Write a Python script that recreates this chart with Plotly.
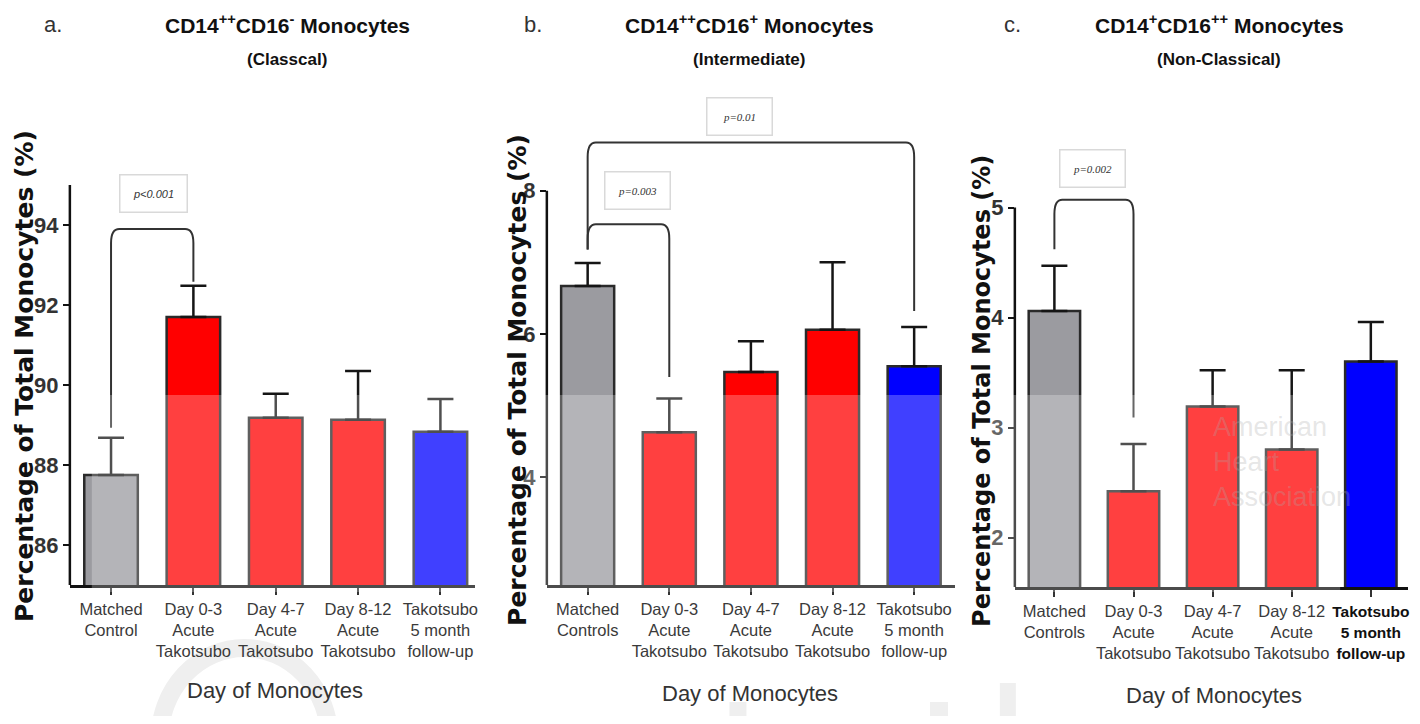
import plotly.graph_objects as go

# the page body keeps its default 8px margin, so the figure is laid out 8px in
OFF = 8
W, H = 1420 - 2 * OFF, 724 - 2 * OFF

# ---------------- data ----------------
labels_a = ["Matched<br>Control", "Day 0-3<br>Acute<br>Takotsubo", "Day 4-7<br>Acute<br>Takotsubo",
            "Day 8-12<br>Acute<br>Takotsubo", "Takotsubo<br>5 month<br>follow-up"]
labels_b = ["Matched<br>Controls", "Day 0-3<br>Acute<br>Takotsubo", "Day 4-7<br>Acute<br>Takotsubo",
            "Day 8-12<br>Acute<br>Takotsubo", "Takotsubo<br>5 month<br>follow-up"]
labels_c = ["Matched<br>Controls", "Day 0-3<br>Acute<br>Takotsubo", "Day 4-7<br>Acute<br>Takotsubo",
            "Day 8-12<br>Acute<br>Takotsubo",
            "<span style='font-size:15.5px;color:#111'><b>Takotsubo</b><br><b>5 month</b><br><b>follow-up</b></span>"]

classical_mean = [87.75, 91.70, 89.18, 89.13, 88.83]
classical_sem = [0.93, 0.78, 0.60, 1.22, 0.82]
intermediate_mean = [6.67, 4.63, 5.47, 6.06, 5.55]
intermediate_sem = [0.32, 0.47, 0.43, 0.94, 0.55]
nonclassical_mean = [4.06, 2.42, 3.19, 2.80, 3.60]
nonclassical_sem = [0.41, 0.43, 0.33, 0.72, 0.36]

yticks_a = [86, 88, 90, 92, 94]
yticks_b = [4, 6, 8]
yticks_c = [2, 3, 4, 5]

# significance brackets: (from, to, top, left-leg end, right-leg end, label, label x, label y)
brackets_a = [(0, 1, 93.9, 88.93, 92.58, "p<0.001", 0.51, 94.8)]
brackets_b = [(0, 1, 7.53, 7.18, 5.40, "p=0.003", 0.61, 8.0),
              (0, 4, 8.67, 7.18, 6.32, "p=0.01", 1.86, 9.03)]
brackets_c = [(0, 1, 5.07, 4.62, 3.09, "p=0.002", 0.48, 5.355)]

bar_colors = ["#9b9ba0", "#ff0000", "#ff0000", "#ff0000", "#0000ff"]

SANS = "Liberation Sans, Arial, sans-serif"
WIDE_BOLD = "DejaVu Sans, Arial, sans-serif"


def px(x):
    return (x - OFF) / W


def py(y):
    return 1 - (y - OFF) / H


panels = [
    dict(title="CD14<sup>++</sup>CD16<sup>-</sup> Monocytes", sub="(Classcal)", letter="a.",
         labels=labels_a, mean=classical_mean, sem=classical_sem, ticks=yticks_a,
         brackets=brackets_a, xdom=(70, 476), ybot_px=585, ybot=85.0, scale=40.0, ytop=95,
         xr=(-0.5, 4.42), cx=288, cx_letter=53, ytitle_x=24, ytitle_y=376, ytsize=25,
         xtitle=(276, 690), corner=(0.1, 0.35), pfont="Liberation Sans, Arial", pw=62),
    dict(title="CD14<sup>++</sup>CD16<sup>+</sup> Monocytes", sub="(Intermediate)", letter="b.",
         labels=labels_b, mean=intermediate_mean, sem=intermediate_sem, ticks=yticks_b,
         brackets=brackets_b, xdom=(548, 957), ybot_px=585, ybot=2.5, scale=71.7, ytop=8,
         xr=(-0.5, 4.5), cx=751, cx_letter=534, ytitle_x=518, ytitle_y=380, ytsize=25,
         xtitle=(752, 693), corner=(0.1, 0.2), pfont="Liberation Serif, Times New Roman", pw=60),
    dict(title="CD14<sup>+</sup>CD16<sup>++</sup> Monocytes", sub="(Non-Classical)", letter="c.",
         labels=labels_c, mean=nonclassical_mean, sem=nonclassical_sem, ticks=yticks_c,
         brackets=brackets_c, xdom=(1017, 1411), ybot_px=587, ybot=1.55, scale=110.0, ytop=5,
         xr=(-0.5, 4.47), cx=1222, cx_letter=1015, ytitle_x=984, ytitle_y=391, ytsize=24,
         xtitle=(1217, 695), corner=(0.1, 0.13), pfont="Liberation Serif, Times New Roman", pw=60),
]

TOP_PX = 90

fig = go.Figure()
shapes = []
annotations = []
layout = dict(width=W, height=H, margin=dict(l=0, r=0, t=0, b=0),
              paper_bgcolor="white", plot_bgcolor="white", showlegend=False)

for i, p in enumerate(panels, start=1):
    sx = "" if i == 1 else str(i)
    xa, ya = "x" + sx, "y" + sx
    x_idx = list(range(len(p["mean"])))
    fig.add_trace(go.Bar(
        x=x_idx, y=p["mean"], xaxis=xa, yaxis=ya, width=0.65,
        marker=dict(color=bar_colors, line=dict(color="#2a2a2a", width=2.5)),
        error_y=dict(type="data", array=p["sem"], arrayminus=[0] * len(p["sem"]),
                     symmetric=False, color="#151515", thickness=2.5, width=13),
        hoverinfo="skip",
    ))
    yrange_top = p["ybot"] + (p["ybot_px"] - TOP_PX) / p["scale"]
    layout["xaxis" + sx] = dict(
        domain=[px(p["xdom"][0]), px(p["xdom"][1])], anchor=ya, range=list(p["xr"]),
        tickvals=x_idx, ticktext=p["labels"], showgrid=False, zeroline=False,
        showline=True, linecolor="#111", linewidth=2.5, ticks="outside", ticklen=7,
        tickwidth=2, tickcolor="#333", tickangle=0,
        tickfont=dict(family=SANS, size=16.5, color="#3a3a3a"))
    layout["yaxis" + sx] = dict(
        domain=[py(p["ybot_px"]), py(TOP_PX)], anchor=xa,
        range=[p["ybot"], yrange_top], tickvals=p["ticks"], showgrid=False, zeroline=False,
        showline=False, ticks="outside", ticklen=6, tickwidth=2, tickcolor="#111",
        tickfont=dict(family=SANS, size=22, color="#333", weight="bold"))
    # y axis line (only up to the top tick region)
    shapes.append(dict(type="line", xref=xa + " domain", yref=ya, x0=0, x1=0,
                       y0=p["ybot"], y1=p["ytop"], line=dict(color="#111", width=2.5)))
    # significance brackets
    dx, dy = p["corner"]
    for (b0, b1, top, yl, yr, lab, lx, ly) in p["brackets"]:
        path = (f"M {b0},{yl} L {b0},{top - dy} Q {b0},{top} {b0 + dx},{top} "
                f"L {b1 - dx},{top} Q {b1},{top} {b1},{top - dy} L {b1},{yr}")
        shapes.append(dict(type="path", xref=xa, yref=ya, path=path,
                           line=dict(color="#333", width=2)))
        annotations.append(dict(
            x=lx, y=ly, xref=xa, yref=ya, text=lab, showarrow=False,
            font=dict(family=p["pfont"], size=11, color="#333", style="italic"),
            bordercolor="#d9d9d9", borderwidth=1.5, borderpad=2, bgcolor="white",
            width=p["pw"], height=32, align="center", valign="middle"))
    # titles
    annotations.append(dict(x=px(p["cx"]), y=py(24), xref="paper", yref="paper",
                            text=p["title"], showarrow=False, xanchor="center", yanchor="middle",
                            font=dict(family=SANS, size=21, color="#111", weight="bold")))
    annotations.append(dict(x=px(p["cx"]), y=py(59), xref="paper", yref="paper",
                            text=p["sub"], showarrow=False, xanchor="center", yanchor="middle",
                            font=dict(family=SANS, size=17, color="#111", weight="bold")))
    annotations.append(dict(x=px(p["cx_letter"]), y=py(24), xref="paper", yref="paper",
                            text=p["letter"], showarrow=False, xanchor="center", yanchor="middle",
                            font=dict(family=SANS, size=22, color="#333")))
    annotations.append(dict(x=px(p["ytitle_x"]), y=py(p["ytitle_y"]), xref="paper", yref="paper",
                            text="Percentage of Total Monocytes (%)", showarrow=False,
                            textangle=-90, xanchor="center", yanchor="middle",
                            font=dict(family=WIDE_BOLD, size=p["ytsize"], color="#111", weight="bold")))
    annotations.append(dict(x=px(p["xtitle"][0]), y=py(p["xtitle"][1]), xref="paper", yref="paper",
                            text="Day of Monocytes", showarrow=False, xanchor="center", yanchor="middle",
                            font=dict(family=SANS, size=22, color="#333")))

# AHA watermark in panel c
annotations.append(dict(x=px(1214), y=py(462), xref="paper", yref="paper",
                        text="American<br>Heart<br>Association", showarrow=False,
                        xanchor="left", yanchor="middle", align="left",
                        font=dict(family=SANS, size=27, color="rgba(170,170,170,0.3)")))

# lightened band (scan artifact in the original figure)
shapes.append(dict(type="rect", xref="paper", yref="paper", x0=px(92), x1=px(1343),
                   y0=py(592), y1=py(395), fillcolor="rgba(255,255,255,0.25)",
                   line=dict(width=0), layer="above"))
# faint background watermark marks at the bottom
shapes.append(dict(type="circle", xref="paper", yref="paper", x0=px(160), x1=px(330),
                   y0=py(830), y1=py(648), line=dict(color="#efefef", width=18), layer="below"))
for (a0, a1, top) in [(731, 748, 702), (932, 950, 702), (1002, 1018, 683)]:
    shapes.append(dict(type="rect", xref="paper", yref="paper", x0=px(a0), x1=px(a1),
                       y0=py(724), y1=py(top), fillcolor="#efefef", line=dict(width=0),
                       layer="below"))

layout["shapes"] = shapes
layout["annotations"] = annotations
fig.update_layout(**layout)
fig.write_html("out.html")
